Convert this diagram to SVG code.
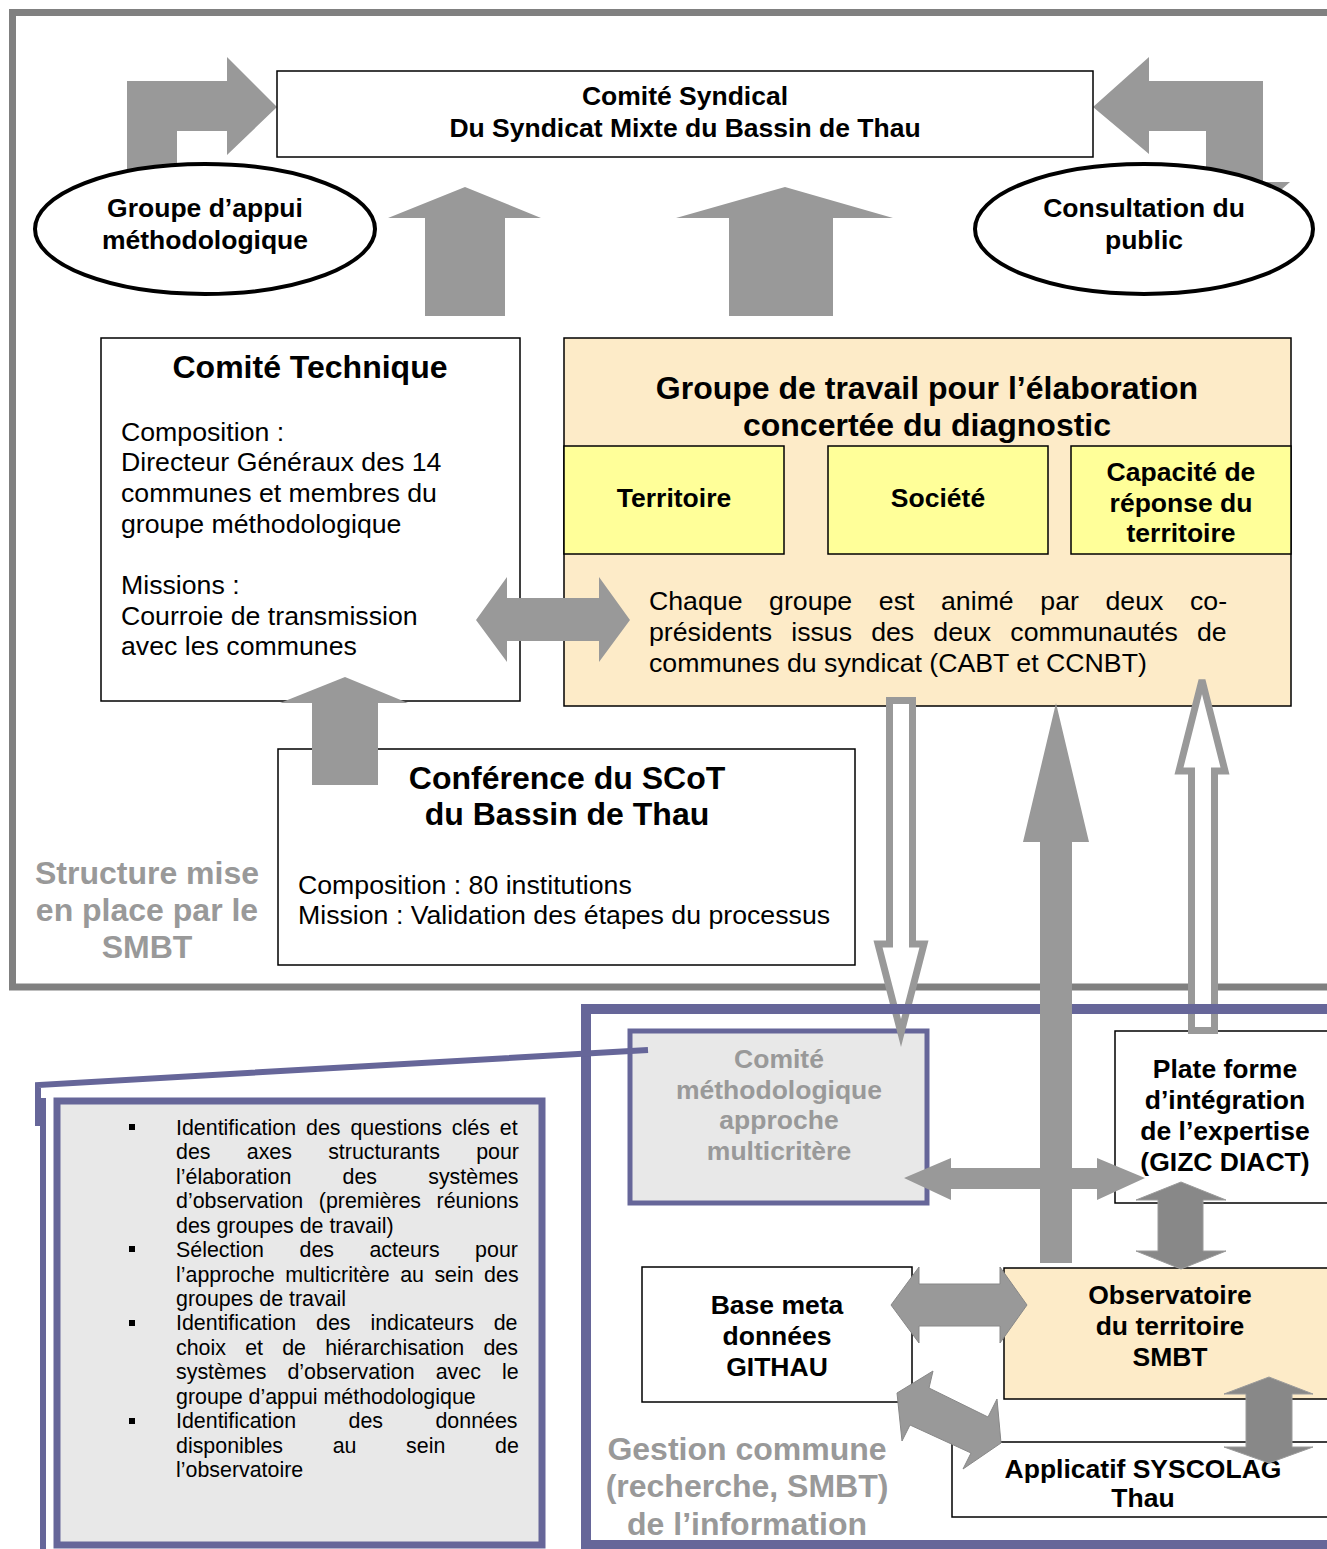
<svg xmlns="http://www.w3.org/2000/svg" width="1327" height="1549" viewBox="0 0 1327 1549">
<style>
text{font-family:"Liberation Sans",Arial,sans-serif;fill:#000}
.b{font-weight:bold;font-size:26.5px;text-anchor:middle}
.bl{font-weight:bold;font-size:32px;text-anchor:middle}
.r{font-size:26.7px}
.s{font-size:21.4px}
.g{fill:#999999}
.box{fill:#fff;stroke:#000;stroke-width:1.5}
.peach{fill:#fdebc8;stroke:#000;stroke-width:1.5}
.yel{fill:#ffff99;stroke:#000;stroke-width:1.5}
.arr{fill:#999999}
.arr2{fill:#888888;stroke:#9a9a9a;stroke-width:1}
.arr3{fill:#999999;stroke:#888888;stroke-width:1}
.hol{fill:#fff;stroke:#999999;stroke-width:7}
.pur{fill:none;stroke:#666699}
</style>
<rect width="1327" height="1549" fill="#fff"/>
<!-- outer frame of the SMBT structure -->
<rect x="12.5" y="12.5" width="1340" height="974.5" fill="none" stroke="#808080" stroke-width="7"/>

<g id="connectors-top">
<polygon class="arr" points="127,180 127,81 227,81 227,57 277,107 227,155 227,131 177,131 177,180"/>
<polygon class="arr" points="1093,107 1149,57 1149,81 1263,81 1263,182 1290,182 1245,222 1206,222 1206,131 1149,131 1149,154"/>
<polygon class="arr" points="465,187 541,218 505,218 505,316 425,316 425,218 388,218"/>
<polygon class="arr" points="785,187 893,218 833,218 833,316 729,316 729,218 676,218"/>
</g>

<g id="groupe-appui">
<ellipse cx="205" cy="229" rx="170" ry="65" fill="#fff" stroke="#000" stroke-width="4"/>
<text class="b" x="205" y="217">Groupe d’appui</text>
<text class="b" x="205" y="249">méthodologique</text>
</g>
<g id="consultation">
<ellipse cx="1144" cy="229" rx="169" ry="65" fill="#fff" stroke="#000" stroke-width="4"/>
<text class="b" x="1144" y="217">Consultation du</text>
<text class="b" x="1144" y="249">public</text>
</g>
<g id="comite-syndical">
<rect class="box" x="277" y="71" width="816" height="86"/>
<text class="b" x="685" y="105">Comité Syndical</text>
<text class="b" x="685" y="137">Du Syndicat Mixte du Bassin de Thau</text>
</g>
<g id="comite-technique">
<rect class="box" x="101" y="338" width="419" height="363"/>
<text class="bl" x="310" y="378">Comité Technique</text>
<text class="r" x="121" y="441">Composition :</text>
<text class="r" x="121" y="471">Directeur Généraux des 14</text>
<text class="r" x="121" y="502">communes et membres du</text>
<text class="r" x="121" y="533">groupe méthodologique</text>
<text class="r" x="121" y="594">Missions :</text>
<text class="r" x="121" y="625">Courroie de transmission</text>
<text class="r" x="121" y="655">avec les communes</text>
</g>
<g id="groupe-travail">
<rect class="peach" x="564" y="338" width="727" height="368"/>
<text class="bl" x="927" y="399">Groupe de travail pour l’élaboration</text>
<text class="bl" x="927" y="436">concertée du diagnostic</text>
<text class="r" x="649" y="610" word-spacing="19.2">Chaque groupe est animé par deux co-</text>
<text class="r" x="649" y="641" word-spacing="11.7">présidents issus des deux communautés de</text>
<text class="r" x="649" y="672">communes du syndicat (CABT et CCNBT)</text>
</g>
<g id="territoire">
<rect class="yel" x="564" y="446" width="220" height="108"/>
<text class="b" x="674" y="507">Territoire</text>
</g>
<g id="societe">
<rect class="yel" x="828" y="446" width="220" height="108"/>
<text class="b" x="938" y="507">Société</text>
</g>
<g id="capacite">
<rect class="yel" x="1071" y="446" width="220" height="108"/>
<text class="b" x="1181" y="481">Capacité de</text>
<text class="b" x="1181" y="512">réponse du</text>
<text class="b" x="1181" y="542">territoire</text>
</g>
<g id="conference">
<rect class="box" x="278" y="749" width="577" height="216"/>
<text class="bl" x="567" y="789">Conférence du SCoT</text>
<text class="bl" x="567" y="825">du Bassin de Thau</text>
<text class="r" x="298" y="894">Composition : 80 institutions</text>
<text class="r" x="298" y="924">Mission : Validation des étapes du processus</text>
</g>
<g id="label-structure">
<text class="bl g" x="147" y="884">Structure mise</text>
<text class="bl g" x="147" y="921">en place par le</text>
<text class="bl g" x="147" y="958">SMBT</text>
</g>

<g id="comite-methodologique">
<rect x="630" y="1031" width="297" height="172" fill="#e8e8e8" stroke="#666699" stroke-width="5"/>
<text class="b g" x="779" y="1068">Comité</text>
<text class="b g" x="779" y="1099">méthodologique</text>
<text class="b g" x="779" y="1129">approche</text>
<text class="b g" x="779" y="1160">multicritère</text>
</g>
<g id="plate-forme">
<rect class="box" x="1115" y="1031" width="250" height="172"/>
<text class="b" x="1225" y="1078">Plate forme</text>
<text class="b" x="1225" y="1109">d’intégration</text>
<text class="b" x="1225" y="1140">de l’expertise</text>
<text class="b" x="1225" y="1171">(GIZC DIACT)</text>
</g>

<g id="connectors-hollow">
<path class="hol" d="M889.5,700.5 L912.5,700.5 L912.5,944 L924,944 L901,1033 L878,944 L889.5,944 Z"/>
<path class="hol" d="M1191.5,1030.5 L1214.5,1030.5 L1214.5,771 L1225,771 L1202,680 L1179,771 L1191.5,771 Z"/>
</g>

<!-- frame of the shared information management -->
<rect class="pur" x="586" y="1009" width="800" height="536" stroke-width="10"/>

<g id="callout">
<path class="pur" d="M648,1050 L38,1085 L38,1126" stroke-width="6"/>
<line class="pur" x1="43" y1="1098" x2="43" y2="1560" stroke-width="6"/>
<rect x="57" y="1101" width="485" height="444" fill="#e8e8e8" stroke="#666699" stroke-width="7"/>
<rect x="129" y="1124" width="6" height="6"/>
<rect x="129" y="1246" width="6" height="6"/>
<rect x="129" y="1320" width="6" height="6"/>
<rect x="129" y="1418" width="6" height="6"/>
<text class="s" x="176" y="1135" word-spacing="3.95">Identification des questions clés et</text>
<text class="s" x="176" y="1159.4" word-spacing="30.3">des axes structurants pour</text>
<text class="s" x="176" y="1183.9" word-spacing="45.25">l’élaboration des systèmes</text>
<text class="s" x="176" y="1208.3" word-spacing="9.6">d’observation (premières réunions</text>
<text class="s" x="176" y="1232.7">des groupes de travail)</text>
<text class="s" x="176" y="1257.1" word-spacing="29.55">Sélection des acteurs pour</text>
<text class="s" x="176" y="1281.6" word-spacing="4.5">l’approche multicritère au sein des</text>
<text class="s" x="176" y="1306">groupes de travail</text>
<text class="s" x="176" y="1330.4" word-spacing="13.95">Identification des indicateurs de</text>
<text class="s" x="176" y="1354.9" word-spacing="13.25">choix et de hiérarchisation des</text>
<text class="s" x="176" y="1379.3" word-spacing="15.1">systèmes d’observation avec le</text>
<text class="s" x="176" y="1403.7">groupe d’appui méthodologique</text>
<text class="s" x="176" y="1428.1" word-spacing="46.5">Identification des données</text>
<text class="s" x="176" y="1452.6" word-spacing="43.7">disponibles au sein de</text>
<text class="s" x="176" y="1477">l’observatoire</text>
</g>

<g id="base-meta">
<rect class="box" x="642" y="1267" width="270" height="135"/>
<text class="b" x="777" y="1314">Base meta</text>
<text class="b" x="777" y="1345">données</text>
<text class="b" x="777" y="1376">GITHAU</text>
</g>
<g id="observatoire">
<rect class="peach" x="1004" y="1268" width="360" height="131"/>
<text class="b" x="1170" y="1304">Observatoire</text>
<text class="b" x="1170" y="1335">du territoire</text>
<text class="b" x="1170" y="1366">SMBT</text>
</g>
<g id="applicatif">
<rect class="box" x="952" y="1442" width="410" height="75"/>
<text class="b" x="1143" y="1478">Applicatif SYSCOLAG</text>
<text class="b" x="1143" y="1507">Thau</text>
</g>
<g id="label-gestion">
<text class="bl g" x="747" y="1460">Gestion commune</text>
<text class="bl g" x="747" y="1497">(recherche, SMBT)</text>
<text class="bl g" x="747" y="1535">de l’information</text>
</g>

<g id="connectors">
<polygon class="arr" points="476,620 507,577 507,598 599,598 599,577 630,620 599,662 599,641 507,641 507,662"/>
<polygon class="arr" points="345,677 408,703 378,703 378,785 312,785 312,703 280,703"/>
<polygon class="arr" points="1056,703 1089,842 1072,842 1072,1263 1040,1263 1040,842 1023,842"/>
<polygon class="arr" points="904,1178 951,1158 951,1168 1097,1168 1097,1158 1145,1178 1097,1200 1097,1189 951,1189 951,1200"/>
<polygon class="arr2" points="1181,1182 1226,1200 1203,1200 1203,1251 1226,1251 1181,1269 1136,1251 1158,1251 1158,1200 1136,1200"/>
<polygon class="arr2" points="1269,1377 1313,1394 1292,1394 1292,1447 1313,1447 1269,1463 1224,1447 1246,1447 1246,1394 1224,1394"/>
<polygon class="arr3" points="891,1305 919,1267 919,1284 1000,1284 1000,1267 1027,1305 1000,1343 1000,1326 919,1326 919,1343"/>
<polygon class="arr3" points="897,1393 933,1371 929,1388 988,1417 997,1399 1001,1443 963,1469 971,1453 910,1425 902,1441"/>
</g>
</svg>
